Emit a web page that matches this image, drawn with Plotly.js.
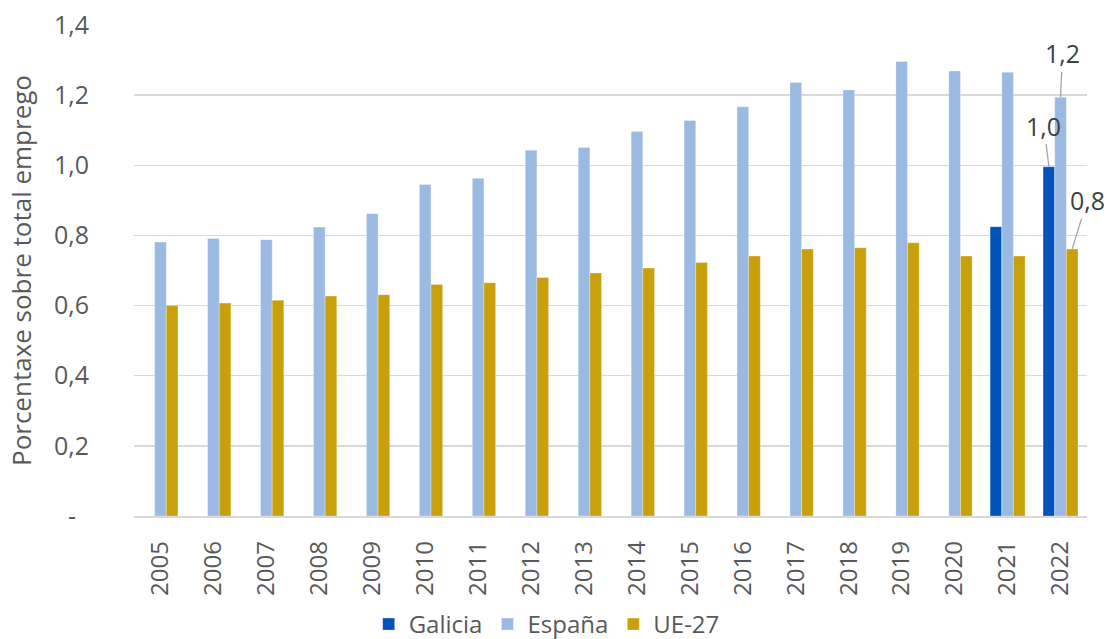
<!DOCTYPE html>
<html>
<head>
<meta charset="utf-8">
<script src="https://cdn.plot.ly/plotly-3.0.1.min.js"></script>
<style>
  html, body { margin: 0; padding: 0; background: #ffffff; }
  #chart { width: 1107px; height: 639px; }
</style>
</head>
<body>
<div id="chart"></div>
<script>
var years = ['2005','2006','2007','2008','2009','2010','2011','2012','2013','2014','2015','2016','2017','2018','2019','2020','2021','2022'];
var galicia = [null,null,null,null,null,null,null,null,null,null,null,null,null,null,null,null,0.825,0.996];
var espana  = [0.781,0.791,0.788,0.824,0.862,0.945,0.963,1.043,1.051,1.096,1.128,1.167,1.236,1.215,1.296,1.269,1.265,1.194];
var ue27    = [0.600,0.607,0.615,0.627,0.631,0.660,0.665,0.680,0.693,0.707,0.723,0.741,0.761,0.765,0.779,0.741,0.741,0.761];
var yTickVals = [0,0.2,0.4,0.6,0.8,1.0,1.2,1.4];
var yTickText = ['-\u00a0\u00a0','0,2','0,4','0,6','0,8','1,0','1,2','1,4'];

var FONT = 'Open Sans, Noto Sans, sans-serif';
var colors = {gal: '#0053B9', esp: '#9BBAE2', ue: '#C8A00C'};

function bar(name, y, color) {
  return {
    type: 'bar', name: name, x: years, y: y,
    marker: {color: color, line: {color: 'rgba(255,255,255,0.5)', width: 0.6}},
    hoverinfo: 'skip'
  };
}

var data = [
  bar('Galicia', galicia, colors.gal),
  bar('España', espana, colors.esp),
  bar('UE-27', ue27, colors.ue)
];

function fmt(v) { return v.toFixed(1).replace('.', ','); }

var last = years.length - 1;
var barGap = 0.34;
var barW = (1 - barGap) / 3;
var annSpec = [
  {vals: galicia, off: -barW, ax: -5, ay: -41},
  {vals: espana, off: 0, ax: 2, ay: -44},
  {vals: ue27, off: barW, ax: 15, ay: -49}
];
var annotations = annSpec.map(function (s) {
  return {
    xref: 'x', yref: 'y', x: last + s.off, y: s.vals[last],
    text: fmt(s.vals[last]), showarrow: true, arrowhead: 0,
    arrowwidth: 1.3, arrowcolor: '#a6a6a6', ax: s.ax, ay: s.ay,
    standoff: 0, startstandoff: 0,
    font: {family: FONT, size: 25, color: '#404040'}
  };
});

var layout = {
  width: 1107, height: 639,
  margin: {l: 134, r: 20, t: 25, b: 123, autoexpand: false},
  paper_bgcolor: '#ffffff', plot_bgcolor: '#ffffff',
  font: {family: FONT, size: 24, color: '#595959'},
  barmode: 'group', bargap: barGap, bargroupgap: 0,
  showlegend: true,
  legend: {
    orientation: 'h', x: 0.433, xanchor: 'center', y: -0.221, yanchor: 'middle',
    font: {family: FONT, size: 24, color: '#595959'},
    itemclick: false, itemdoubleclick: false, traceorder: 'normal'
  },
  xaxis: {
    type: 'category', range: [-0.5, years.length - 0.5], autorange: false,
    tickangle: -90, showgrid: false, automargin: false,
    showline: true, linecolor: '#d9d9d9', linewidth: 1.5,
    ticks: '', ticklabelstandoff: 14,
    tickfont: {family: FONT, size: 24, color: '#595959'},
    fixedrange: true
  },
  yaxis: {
    range: [0, 1.4], tickvals: yTickVals, ticktext: yTickText, automargin: false,
    showgrid: true, gridcolor: '#d9d9d9', gridwidth: 1.5,
    zeroline: false, showline: false, ticks: '',
    ticklabelstandoff: 44,
    tickfont: {family: FONT, size: 25, color: '#595959'},
    title: {text: 'Porcentaxe sobre total emprego', standoff: 14,
            font: {family: FONT, size: 26, color: '#595959'}},
    fixedrange: true
  },
  annotations: annotations
};

Plotly.newPlot('chart', data, layout, {displayModeBar: false, staticPlot: true});
</script>
</body>
</html>
